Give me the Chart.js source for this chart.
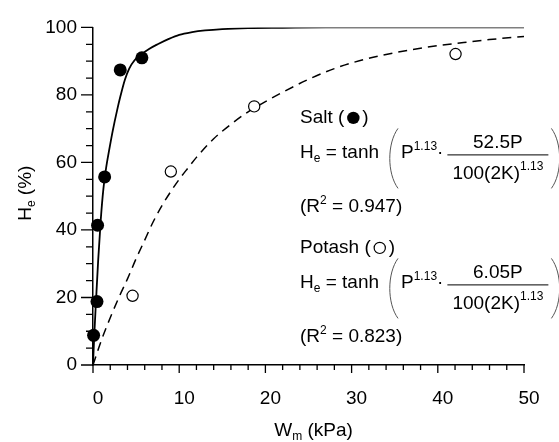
<!DOCTYPE html>
<html>
<head>
<meta charset="utf-8">
<script src="https://cdn.jsdelivr.net/npm/chart.js@4/dist/chart.umd.min.js"></script>
<style>
html, body { margin: 0; padding: 0; background: #fff; }
#wrap { width: 559px; height: 442px; }
</style>
</head>
<body>
<div id="wrap"><canvas id="heChart"></canvas></div>
<script>
/*----------------------------------------------------------------*/
// measured points (Wm kPa, He %)
const saltX = [0.07, 0.46, 0.53, 1.35, 3.16, 5.67];
const saltY = [8.8, 18.8, 41.4, 55.7, 87.4, 91.0];
const potashX = [4.59, 9.03, 18.7, 42.06];
const potashY = [20.5, 57.3, 76.6, 92.1];

// fitted curves
const saltFitX = [0, 0.15, 0.35, 0.6, 0.9, 1.2, 1.5, 1.9, 2.3, 2.8, 3.2, 3.7, 4.2, 4.8, 5.5, 6.5, 7.5, 8.8, 10, 11.5, 13, 15, 18, 22, 27, 35, 50];
const saltFitY = [0, 9, 19, 31, 43, 52, 58, 64, 69.5, 75.5, 79.8, 84.5, 87.8, 90.2, 91.8, 93.6, 95, 96.6, 97.8, 98.6, 99.1, 99.5, 99.8, 99.9, 100, 100, 100];
const potashFitX = [0, 1, 2, 3, 4, 5, 6, 7, 8, 9, 10, 11, 12, 14, 16, 18, 20, 22, 25, 28, 31, 34, 37, 40, 43, 46, 50];
const potashFitY = [0, 7.5, 14, 20, 25.5, 31.5, 37, 42.5, 47.2, 51.3, 55, 58.3, 61.5, 67, 71.3, 75, 78, 80.8, 84.6, 87.8, 90.2, 92, 93.4, 94.6, 95.5, 96.4, 97.3];

const xTicks = [0, 10, 20, 30, 40, 50];
const yTicks = [0, 20, 40, 60, 80, 100];

const FONT = '"Liberation Sans", Arial, Helvetica, sans-serif';

function pairs(xs, ys) {
    return xs.map((v, i) => ({ x: v, y: ys[i] }));
}

function setFont(ctx, size) {
    ctx.font = size + 'px ' + FONT;
}

// draws text pieces one after another: [text, size, dy]
function run(ctx, x, y, parts) {
    parts.forEach(([t, size, dy]) => {
        setFont(ctx, size);
        ctx.fillText(t, x, y + (dy || 0));
        x += ctx.measureText(t).width;
    });
    return x;
}

function measure(ctx, parts) {
    let w = 0;
    parts.forEach(([t, size]) => {
        setFont(ctx, size);
        w += ctx.measureText(t).width;
    });
    return w;
}

function paren(ctx, x, y, h, dir) {
    // thin tall bracket, dir = 1 for "(" and -1 for ")"
    ctx.beginPath();
    ctx.moveTo(x, y - h / 2);
    ctx.bezierCurveTo(x - dir * 11, y - h / 4, x - dir * 11, y + h / 4, x, y + h / 2);
    ctx.stroke();
}

function eqBlock(ctx, left, top, name, filled, coef, r2) {
    ctx.fillStyle = '#000';
    ctx.strokeStyle = '#000';
    let x = run(ctx, left, top, [[name + ' (', 19]]);
    ctx.beginPath();
    ctx.arc(x + 9, top - 5.5, filled ? 6.2 : 5.6, 0, Math.PI * 2);
    if (filled) ctx.fill(); else { ctx.lineWidth = 1.2; ctx.stroke(); }
    run(ctx, x + 18, top, [[')', 19]]);

    const b = top + 35;
    x = run(ctx, left, b, [['H', 19], ['e', 12, 4], [' = tanh', 19]]);
    ctx.lineWidth = 1;
    ctx.strokeStyle = '#555';
    const lp = x + 19;
    paren(ctx, lp, b, 60, 1);
    x = run(ctx, lp + 3, b, [['P', 19], ['1.13', 12, -8], ['·', 19]]);

    const fx = x + 4, fw = 101;
    ctx.strokeStyle = '#000';
    ctx.lineWidth = 1;
    ctx.beginPath();
    ctx.moveTo(fx, b - 3.5);
    ctx.lineTo(fx + fw, b - 3.5);
    ctx.stroke();
    const num = [[coef + 'P', 19]];
    run(ctx, fx + (fw - measure(ctx, num)) / 2, b - 10, num);
    const den = [['100(2K)', 19], ['1.13', 12, -9]];
    run(ctx, fx + (fw - measure(ctx, den)) / 2, b + 21, den);
    ctx.strokeStyle = '#555';
    paren(ctx, fx + fw + 3, b, 60, -1);

    run(ctx, left, top + 89, [['(R', 19], ['2', 12, -8], [' = ' + r2 + ')', 19]]);
}

/*----------------------------------------------------------------*/
const axisDecor = {
    id: 'axisDecor',
    afterDraw(chart) {
        const { ctx, chartArea, scales: { x, y } } = chart;
        ctx.save();
        ctx.strokeStyle = '#000';
        ctx.lineWidth = 1.3;
        ctx.beginPath();
        for (let v = y.min; v <= y.max; v += 5) {
            const py = y.getPixelForValue(v);
            const len = v % 20 === 0 ? 12 : 7;
            ctx.moveTo(x.left, py);
            ctx.lineTo(x.left - len, py);
        }
        for (let v = x.min; v <= x.max; v += 2) {
            const px = x.getPixelForValue(v);
            const len = v % 10 === 0 ? 8 : 5;
            ctx.moveTo(px, y.bottom);
            ctx.lineTo(px, y.bottom + len);
        }
        ctx.stroke();

        ctx.fillStyle = '#000';
        ctx.textBaseline = 'alphabetic';
        // x title
        const xt = [['W', 19], ['m', 12, 4], [' (kPa)', 19]];
        run(ctx, (chartArea.left + chartArea.right) / 2 + 5 - measure(ctx, xt) / 2, 436, xt);
        // y title
        const yt = [['H', 19], ['e', 12, 4], [' (%)', 19]];
        ctx.save();
        ctx.translate(31, (chartArea.top + chartArea.bottom) / 2 - 3);
        ctx.rotate(-Math.PI / 2);
        run(ctx, -measure(ctx, yt) / 2, 0, yt);
        ctx.restore();

        eqBlock(ctx, chartArea.left + 207, chartArea.top + 96, 'Salt', true, '52.5', '0.947');
        eqBlock(ctx, chartArea.left + 207, chartArea.top + 226, 'Potash', false, '6.05', '0.823');
        ctx.restore();
    }
};

/*----------------------------------------------------------------*/
new Chart(document.getElementById('heChart'), {
    type: 'scatter',
    data: {
        datasets: [
            {
                label: 'Salt',
                data: pairs(saltX, saltY),
                pointRadius: 6.5,
                backgroundColor: '#000',
                borderWidth: 0,
                clip: false
            },
            {
                label: 'Potash',
                data: pairs(potashX, potashY),
                pointRadius: 5.6,
                backgroundColor: '#fff',
                borderColor: '#000',
                borderWidth: 1.2,
                clip: false
            },
            {
                label: 'Salt fit',
                data: pairs(saltFitX, saltFitY),
                showLine: true,
                pointRadius: 0,
                borderColor: '#000',
                borderWidth: 1.8,
                cubicInterpolationMode: 'monotone'
            },
            {
                label: 'Potash fit',
                data: pairs(potashFitX, potashFitY),
                showLine: true,
                pointRadius: 0,
                borderColor: '#000',
                borderWidth: 1.5,
                borderDash: [9, 6],
                cubicInterpolationMode: 'monotone'
            }
        ]
    },
    options: {
        responsive: true,
        maintainAspectRatio: false,
        animation: false,
        events: [],
        layout: {
            padding: { top: 22, right: 35, left: 0, bottom: 0 }
        },
        plugins: {
            legend: { display: false },
            tooltip: { enabled: false }
        },
        scales: {
            x: {
                type: 'linear',
                min: 0,
                max: 50,
                afterBuildTicks: s => { s.ticks = xTicks.map(v => ({ value: v })); },
                afterFit: s => { s.height = 77; },
                grid: { display: false, drawTicks: false },
                border: { display: true, color: '#000', width: 1.5 },
                ticks: {
                    color: '#000',
                    font: { family: FONT, size: 19 },
                    padding: 22,
                    labelOffset: 5,
                    maxRotation: 0
                }
            },
            y: {
                min: 0,
                max: 100,
                afterBuildTicks: s => { s.ticks = yTicks.map(v => ({ value: v })); },
                afterFit: s => { s.width = 93; },
                grid: { display: false, drawTicks: false },
                border: { display: true, color: '#000', width: 1.5 },
                ticks: {
                    color: '#000',
                    font: { family: FONT, size: 19 },
                    padding: 16
                }
            }
        }
    },
    plugins: [axisDecor]
});
</script>
</body>
</html>
